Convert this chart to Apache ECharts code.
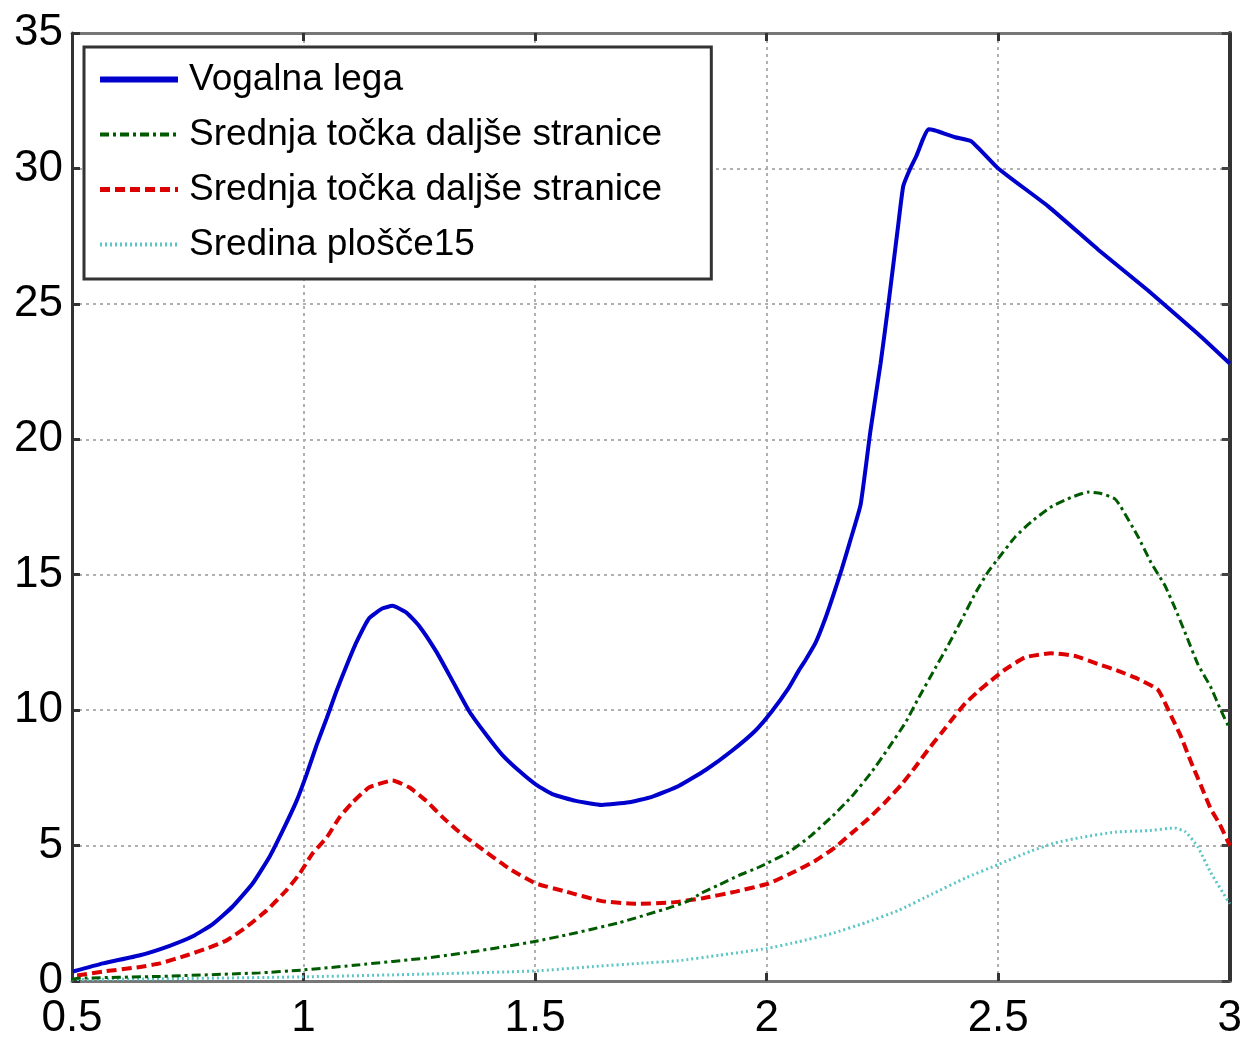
<!DOCTYPE html>
<html>
<head>
<meta charset="utf-8">
<script src="https://cdn.jsdelivr.net/npm/echarts@6/dist/echarts.min.js"></script>
<style>html,body{margin:0;padding:0;background:#fff}#c{width:1245px;height:1041px}</style>
</head>
<body>
<div id="c"></div>
<script>
var seriesNames = ['Vogalna lega', 'Srednja točka daljše stranice', 'Srednja točka daljše stranice', 'Sredina plošče15'];

var vogalna = [[0.502,0.35],[0.567,0.65],[0.647,0.95],[0.711,1.3],[0.761,1.65],[0.804,2.1],[0.847,2.75],[0.890,3.6],[0.927,4.6],[0.955,5.55],[0.985,6.65],[1.006,7.6],[1.028,8.7],[1.050,9.7],[1.071,10.7],[1.093,11.65],[1.114,12.5],[1.142,13.4],[1.170,13.75],[1.192,13.85],[1.222,13.6],[1.250,13.1],[1.287,12.15],[1.321,11.1],[1.358,9.95],[1.394,9.1],[1.429,8.35],[1.466,7.75],[1.502,7.25],[1.537,6.9],[1.588,6.65],[1.644,6.5],[1.703,6.6],[1.752,6.8],[1.810,7.2],[1.869,7.8],[1.925,8.5],[1.976,9.25],[2.011,9.95],[2.047,10.8],[2.069,11.45],[2.084,11.85],[2.106,12.5],[2.127,13.4],[2.145,14.3],[2.162,15.2],[2.183,16.4],[2.203,17.6],[2.224,20.3],[2.246,22.8],[2.263,25.0],[2.284,27.9],[2.295,29.35],[2.310,30.0],[2.323,30.45],[2.338,31.1],[2.349,31.45],[2.364,31.4],[2.407,31.15],[2.442,31.0],[2.5,30.0],[2.608,28.6],[2.716,27.0],[2.823,25.5],[2.931,23.9],[3.0,22.8]];

var srednjaA = [[0.5,0.05],[0.511,0.1],[0.690,0.17],[0.905,0.3],[0.994,0.4],[1.121,0.6],[1.265,0.85],[1.373,1.1],[1.496,1.45],[1.573,1.72],[1.681,2.15],[1.789,2.7],[1.830,2.95],[1.860,3.25],[1.897,3.55],[1.940,3.9],[1.983,4.2],[2.047,4.75],[2.091,5.3],[2.140,6.05],[2.183,6.8],[2.226,7.7],[2.263,8.6],[2.300,9.55],[2.328,10.45],[2.364,11.55],[2.392,12.4],[2.420,13.3],[2.450,14.3],[2.478,15.1],[2.5,15.6],[2.537,16.4],[2.571,16.95],[2.614,17.5],[2.657,17.85],[2.694,18.05],[2.722,18.0],[2.752,17.8],[2.765,17.5],[2.802,16.4],[2.830,15.45],[2.860,14.6],[2.881,13.8],[2.905,12.8],[2.931,11.7],[2.959,10.85],[2.978,10.1],[3.0,9.3]];

var srednjaB = [[0.511,0.2],[0.567,0.35],[0.640,0.5],[0.690,0.65],[0.748,0.95],[0.791,1.2],[0.834,1.5],[0.877,2.0],[0.920,2.6],[0.963,3.35],[0.991,3.95],[1.019,4.7],[1.050,5.3],[1.078,6.05],[1.106,6.6],[1.142,7.15],[1.192,7.4],[1.228,7.15],[1.265,6.65],[1.300,6.05],[1.336,5.5],[1.379,4.95],[1.444,4.15],[1.502,3.6],[1.567,3.3],[1.644,2.95],[1.718,2.85],[1.795,2.9],[1.860,3.05],[1.933,3.3],[2.004,3.6],[2.062,4.05],[2.106,4.45],[2.149,4.95],[2.183,5.45],[2.220,6.0],[2.256,6.6],[2.291,7.25],[2.321,7.9],[2.349,8.55],[2.377,9.15],[2.407,9.8],[2.429,10.25],[2.457,10.7],[2.485,11.1],[2.515,11.5],[2.558,11.95],[2.614,12.1],[2.666,12.0],[2.716,11.7],[2.759,11.45],[2.802,11.15],[2.845,10.75],[2.873,9.8],[2.894,9.05],[2.916,8.1],[2.937,7.25],[2.959,6.35],[2.978,5.8],[3.0,5.0]];

var sredina = [[0.5,0.05],[0.690,0.08],[0.991,0.15],[1.250,0.25],[1.498,0.37],[1.638,0.55],[1.724,0.65],[1.810,0.75],[1.897,0.95],[2.0,1.2],[2.069,1.45],[2.140,1.75],[2.213,2.15],[2.284,2.6],[2.356,3.2],[2.429,3.8],[2.5,4.3],[2.571,4.8],[2.623,5.1],[2.679,5.3],[2.752,5.5],[2.823,5.55],[2.881,5.65],[2.905,5.5],[2.931,4.95],[2.959,4.0],[3.0,2.85]];

var xTicks = {min: 0.5, max: 3, step: 0.5};
var yTicks = {min: 0, max: 35, step: 5};

var chart = echarts.init(document.getElementById('c'), null, {renderer: 'canvas'});
var labelFont = {fontFamily: 'Liberation Sans, Arial, sans-serif', fontSize: 44, color: '#000'};
var splitLine = {show: true, lineStyle: {color: '#b0b0b0', width: 2, type: [3, 4]}};

chart.setOption({
  animation: false,
  backgroundColor: '#fff',
  grid: {left: 72, right: 13, top: 33, bottom: 53, containLabel: false},
  legend: {
    orient: 'vertical',
    left: 84, top: 47,
    padding: [14, 39, 16, 13],
    itemGap: 18,
    itemWidth: 78, itemHeight: 14,
    backgroundColor: '#fff',
    borderColor: '#333', borderWidth: 3, borderRadius: 0,
    itemStyle: {opacity: 0},
    textStyle: {fontFamily: 'Liberation Sans, Arial, sans-serif', fontSize: 37, color: '#000', padding: [0,0,0,6]},
    data: [
      {name: seriesNames[0], lineStyle: {width: 6}},
      {name: seriesNames[1] + ' ', lineStyle: {width: 4}},
      {name: seriesNames[2], lineStyle: {width: 5}},
      {name: seriesNames[3], lineStyle: {width: 4}}
    ]
  },
  xAxis: [{
    type: 'value', min: xTicks.min, max: xTicks.max, interval: xTicks.step,
    position: 'bottom',
    axisLine: {show: true, onZero: false, lineStyle: {color: '#777', width: 3}},
    axisTick: {show: true, inside: true, length: 8, lineStyle: {color: '#333', width: 3}},
    axisLabel: Object.assign({margin: 16}, labelFont),
    splitLine: splitLine
  }, {
    type: 'value', min: xTicks.min, max: xTicks.max, interval: xTicks.step,
    position: 'top',
    axisLine: {show: true, onZero: false, lineStyle: {color: '#777', width: 3}},
    axisTick: {show: true, inside: true, length: 8, lineStyle: {color: '#333', width: 3}},
    axisLabel: {show: false}, splitLine: {show: false}
  }],
  yAxis: [{
    type: 'value', min: yTicks.min, max: yTicks.max, interval: yTicks.step,
    position: 'left',
    axisLine: {show: true, onZero: false, lineStyle: {color: '#333', width: 3}},
    axisTick: {show: true, inside: true, length: 8, lineStyle: {color: '#333', width: 3}},
    axisLabel: Object.assign({margin: 9}, labelFont),
    splitLine: splitLine
  }, {
    type: 'value', min: yTicks.min, max: yTicks.max, interval: yTicks.step,
    position: 'right',
    axisLine: {show: true, onZero: false, lineStyle: {color: '#333', width: 4}},
    axisTick: {show: true, inside: true, length: 8, lineStyle: {color: '#444', width: 3}},
    axisLabel: {show: false}, splitLine: {show: false}
  }],
  series: [{
    name: seriesNames[0], type: 'line', data: vogalna, symbol: 'none', smooth: 0.15,
    lineStyle: {color: '#0000cc', width: 4}, itemStyle: {color: '#0000cc'}, z: 5
  }, {
    name: seriesNames[1] + ' ', type: 'line', data: srednjaA, symbol: 'none', smooth: 0.15,
    lineStyle: {color: '#005a00', width: 3, type: [9, 4, 3, 4]}, itemStyle: {color: '#005a00'}, z: 4
  }, {
    name: seriesNames[2], type: 'line', data: srednjaB, symbol: 'none', smooth: 0.15,
    lineStyle: {color: '#dd0000', width: 4, type: [10, 5]}, itemStyle: {color: '#dd0000'}, z: 3
  }, {
    name: seriesNames[3], type: 'line', data: sredina, symbol: 'none', smooth: 0.15,
    lineStyle: {color: '#5cc6c6', width: 3, type: [2, 3]}, itemStyle: {color: '#5cc6c6'}, z: 2
  }]
});
</script>
</body>
</html>
